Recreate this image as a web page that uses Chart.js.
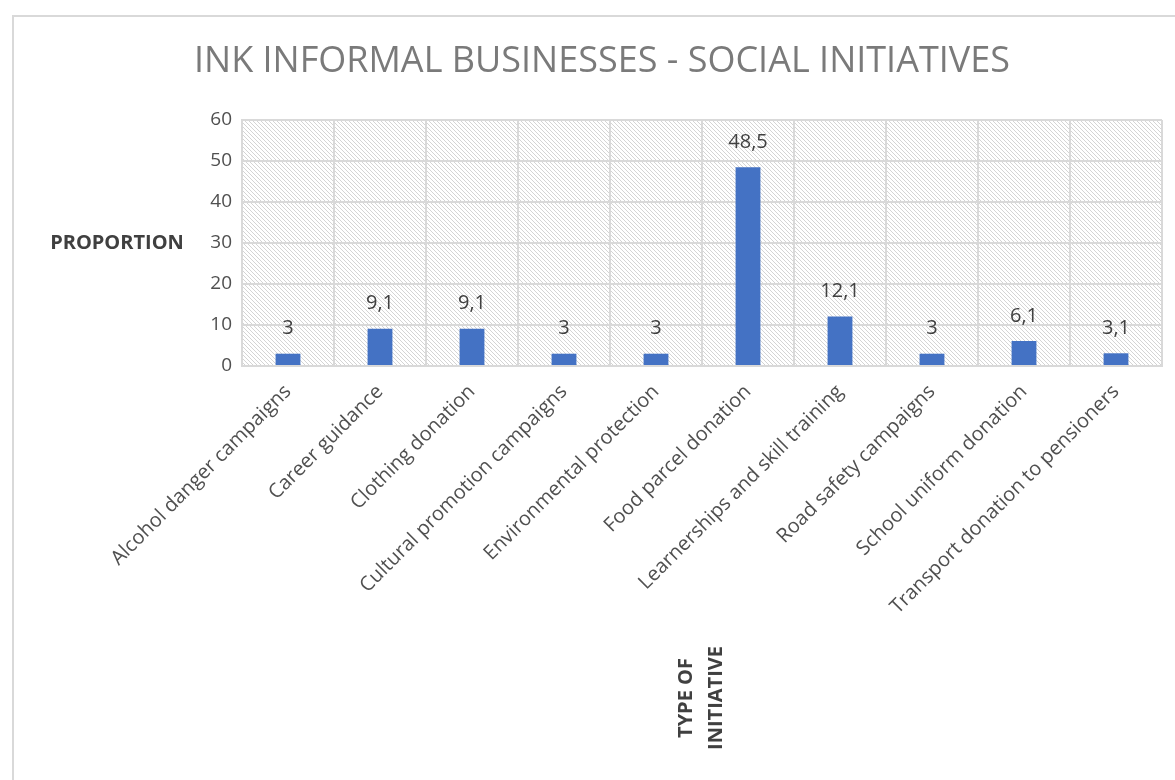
<!DOCTYPE html>
<html>
<head>
<meta charset="utf-8">
<title>INK informal businesses - social initiatives</title>
<script src="https://cdn.jsdelivr.net/npm/chart.js@4/dist/chart.umd.min.js"></script>
<style>
  html, body { margin: 0; padding: 0; background: #ffffff; overflow: hidden; }
  #wrap { position: relative; width: 1175px; height: 780px; }
</style>
</head>
<body>
<div id="wrap"><canvas id="chart" width="1175" height="780"></canvas></div>
<script>
// Initiative categories and the share of businesses (%) running each
const categories = [
  'Alcohol danger campaigns',
  'Career guidance',
  'Clothing donation',
  'Cultural promotion campaigns',
  'Environmental protection',
  'Food parcel donation',
  'Learnerships and skill training',
  'Road safety campaigns',
  'School uniform donation',
  'Transport donation to pensioners'
];
const proportions = [3, 9.1, 9.1, 3, 3, 48.5, 12.1, 3, 6.1, 3.1];

const chartTitle = 'INK INFORMAL BUSINESSES - SOCIAL INITIATIVES';
const yAxisTitle = 'PROPORTION';
const xAxisTitle = ['TYPE OF', 'INITIATIVE'];

const FONT = "'Open Sans', 'DejaVu Sans', sans-serif";
const GRID = '#d9d9d9';
const TEXT = '#505050';

// Light diagonal hatch used behind the plot area
function makeHatch() {
  const tile = document.createElement('canvas');
  tile.width = 8; tile.height = 8;
  const t = tile.getContext('2d');
  t.fillStyle = '#ffffff';
  t.fillRect(0, 0, 8, 8);
  t.fillStyle = '#d4d4d4';
  for (let i = 0; i < 8; i++) {
    t.fillRect(i, i, 1, 1);
    t.fillRect(i, (i + 4) % 8, 1, 1);
  }
  return tile;
}

const backdrop = {
  id: 'backdrop',
  beforeDraw(chart) {
    const { ctx, chartArea: a } = chart;
    ctx.save();
    ctx.fillStyle = '#ffffff';
    ctx.fillRect(0, 0, chart.width, chart.height);
    // outer frame of the chart
    ctx.strokeStyle = GRID;
    ctx.lineWidth = 2;
    ctx.beginPath();
    ctx.moveTo(13, chart.height + 5);
    ctx.lineTo(13, 16);
    ctx.lineTo(chart.width + 5, 16);
    ctx.stroke();
    // hatched plot area
    ctx.fillStyle = ctx.createPattern(makeHatch(), 'repeat');
    ctx.fillRect(a.left, a.top, a.right - a.left, a.bottom - a.top);
    ctx.restore();
  }
};

const valueLabels = {
  id: 'valueLabels',
  afterDatasetsDraw(chart) {
    const { ctx } = chart;
    const meta = chart.getDatasetMeta(0);
    ctx.save();
    ctx.font = '20px ' + FONT;
    ctx.fillStyle = '#404040';
    ctx.textAlign = 'center';
    ctx.textBaseline = 'middle';
    meta.data.forEach((bar, i) => {
      const txt = String(proportions[i]).replace('.', ',');
      ctx.fillText(txt, bar.x, bar.y - 25);
    });
    ctx.restore();
  }
};

const axisTitles = {
  id: 'axisTitles',
  afterDraw(chart) {
    const { ctx } = chart;
    const y = chart.scales.y;
    ctx.save();
    ctx.font = 'bold 20px ' + FONT;
    ctx.fillStyle = '#404040';
    ctx.textAlign = 'center';
    ctx.textBaseline = 'middle';
    ctx.fillText(yAxisTitle, 117, y.getPixelForValue(30));
    ctx.translate(701, 698);
    ctx.rotate(-Math.PI / 2);
    ctx.fillText(xAxisTitle[0], 0, -15);
    ctx.fillText(xAxisTitle[1], 0, 15);
    ctx.restore();
  }
};

new Chart(document.getElementById('chart'), {
  type: 'bar',
  data: {
    labels: categories,
    datasets: [{
      data: proportions,
      backgroundColor: '#4472c4',
      borderWidth: 0,
      categoryPercentage: 1,
      barPercentage: 0.27
    }]
  },
  options: {
    responsive: false,
    animation: false,
    devicePixelRatio: 1,
    layout: { padding: { top: 0, left: 42, right: 13, bottom: 0 } },
    plugins: {
      legend: { display: false },
      tooltip: { enabled: false },
      title: {
        display: true,
        text: chartTitle,
        color: '#7a7a7a',
        font: { family: FONT, size: 36, weight: 'normal', lineHeight: 1.2 },
        padding: { top: 40, bottom: 36.8 }
      }
    },
    scales: {
      x: {
        offset: true,
        grid: { offset: true, color: GRID, lineWidth: 2, drawTicks: false },
        border: { color: GRID, width: 2 },
        ticks: {
          autoSkip: false,
          minRotation: 45,
          maxRotation: 45,
          padding: 14,
          color: TEXT,
          font: { family: FONT, size: 20 }
        },
        afterFit(scale) { scale.height = 414; }
      },
      y: {
        min: 0,
        max: 60,
        grid: { color: GRID, lineWidth: 2, drawTicks: false },
        border: { color: GRID, width: 2 },
        ticks: {
          stepSize: 10,
          padding: 10,
          color: TEXT,
          font: { family: FONT, size: 19 }
        },
        afterFit(scale) { scale.width = 200; }
      }
    }
  },
  plugins: [backdrop, valueLabels, axisTitles]
});
</script>
</body>
</html>
